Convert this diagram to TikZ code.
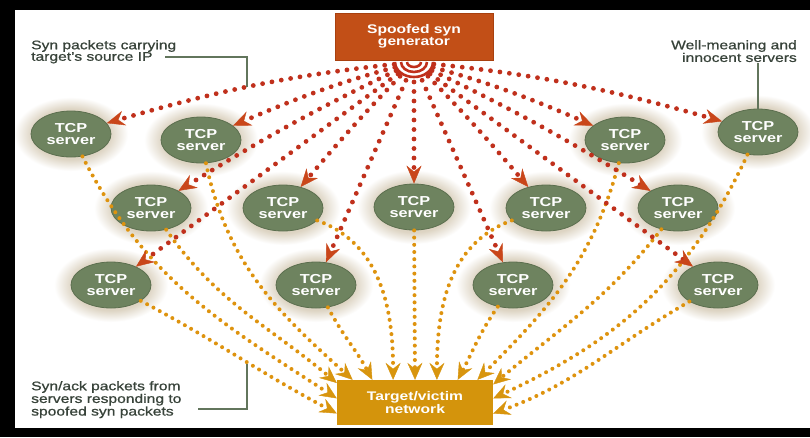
\documentclass[tikz,border=0pt]{standalone}
\usepackage{fontspec}
\setmainfont{Liberation Sans}[FakeStretch=1.25]
\newfontfamily\notefont{Liberation Sans}[FakeStretch=1.25,FakeBold=0.8]
\usetikzlibrary{shapes.geometric,arrows.meta,calc}

\definecolor{synred}{HTML}{C0301C}
\definecolor{tipred}{HTML}{C9461A}
\definecolor{gold}{HTML}{DE930E}
\definecolor{tipgold}{HTML}{D8950E}
\definecolor{genfill}{HTML}{C24F17}
\definecolor{genedge}{HTML}{A8400F}
\definecolor{tgtfill}{HTML}{D4940C}
\definecolor{srvfill}{HTML}{6E835F}
\definecolor{srvedge}{HTML}{5B6E4E}
\definecolor{haloc}{HTML}{DDD4C3}
\definecolor{notetext}{HTML}{38433A}
\definecolor{leader}{HTML}{62755C}

% soft beige glow around each server
\pgfdeclareradialshading{halo}{\pgfpoint{0bp}{0bp}}{color(0bp)=(haloc); color(17bp)=(haloc); color(25bp)=(white); color(50bp)=(white)}

\pgfdeclarelayer{frame}
\pgfdeclarelayer{glow}
\pgfsetlayers{frame,glow,main}

\begin{document}
\begin{tikzpicture}[x=1pt,y=1pt,
  server/.style={ellipse, fill=srvfill, draw=srvedge, line width=0.8pt,
    minimum width=80pt, minimum height=46pt, inner sep=0pt, align=center,
    text=white, font=\bfseries\fontsize{13}{12}\selectfont},
  genbox/.style={rectangle, fill=genfill, draw=genedge, line width=1pt,
    minimum width=158pt, minimum height=47pt, inner sep=0pt, align=center,
    text=white, font=\bfseries\fontsize{12.5}{12}\selectfont},
  tgtbox/.style={rectangle, fill=tgtfill, minimum width=156pt, minimum height=45pt,
    inner sep=0pt, align=center, text=white, font=\bfseries\fontsize{12.5}{11.5}\selectfont},
  note/.style={inner sep=0pt, text=notetext, font=\notefont\fontsize{12.5}{11.5}\selectfont},
  leaderline/.style={draw=leader, line width=1.3pt},
  synline/.style={draw=synred, line width=4.8pt, line cap=round,
    dash pattern=on 0pt off 9.5pt, shorten <=20pt,
    -{Stealth[length=18pt,width=15pt,inset=6pt,line width=0.4pt,color=tipred]}},
  ackline/.style={draw=gold, line width=4pt, line cap=round,
    dash pattern=on 0pt off 7.2pt,
    -{Stealth[length=17pt,width=15pt,inset=6pt,line width=0.4pt,color=tipgold]}},
]
\useasboundingbox (0,0) rectangle (810,-437);

% black frame and white sheet
\begin{pgfonlayer}{frame}
  \fill[black] (0,0) rectangle (810,-437);
  \fill[white] (15,-10) rectangle (810,-428);
\end{pgfonlayer}

% generator, emitter and target
\node[genbox] (gen) at (414,-36.5) {Spoofed syn\\generator};
\coordinate (emit) at (414,-62);
\foreach \rx/\ry in {7/5,13/10,19/15}
  \draw[synred, line width=2.6pt] ($(emit)+(-\rx,0)$) arc[start angle=180, end angle=360, x radius=\rx, y radius=\ry];
\node[tgtbox] (tgt) at (415,-402.5) {Target/victim\\network};

% TCP servers, three rows
\node[server] (r1a) at (71,-134)  {TCP\\server};
\node[server] (r1b) at (201,-140) {TCP\\server};
\node[server] (r1c) at (625,-140) {TCP\\server};
\node[server] (r1d) at (758,-132) {TCP\\server};
\node[server] (r2a) at (151,-208) {TCP\\server};
\node[server] (r2b) at (283,-208) {TCP\\server};
\node[server] (r2c) at (414,-207) {TCP\\server};
\node[server] (r2d) at (546,-208) {TCP\\server};
\node[server] (r2e) at (678,-208) {TCP\\server};
\node[server] (r3a) at (111,-285) {TCP\\server};
\node[server] (r3b) at (316,-285) {TCP\\server};
\node[server] (r3c) at (513,-285) {TCP\\server};
\node[server] (r3d) at (718,-285) {TCP\\server};

\begin{pgfonlayer}{glow}
  \begin{scope}
    \clip (15,-10) rectangle (810,-428);
    \foreach \s in {r1a,r1b,r1c,r1d,r2a,r2b,r2c,r2d,r2e,r3a,r3b,r3c,r3d}
      \shade[shading=halo] (\s.center) ellipse [x radius=57, y radius=37];
  \end{scope}
\end{pgfonlayer}

% syn/ack replies converging on the target
\draw[ackline] (r1a) to[out=-63,in=147] (tgt.177);
\draw[ackline] (r2a) to[out=-55,in=140] (tgt.166);
\draw[ackline] (r3a) to[out=-28,in=152] (tgt.188);
\draw[ackline] (r1b) to[out=-78,in=138] (tgt.160);
\draw[ackline] (r3b) to[out=-62,in=118] (tgt.152);
\draw[ackline] (r2b) to[out=-20,in=90]  (tgt.134);
\draw[ackline] (r2c) -- (tgt.north);
\draw[ackline] (r2d) to[out=200,in=90]  (tgt.46);
\draw[ackline] (r3c) to[out=235,in=62]  (tgt.28);
\draw[ackline] (r1c) to[out=255,in=45]  (tgt.20);
\draw[ackline] (r2e) to[out=232,in=40]  (tgt.13);
\draw[ackline] (r1d) to[out=245,in=25]  (tgt.3);
\draw[ackline] (r3d) to[out=210,in=20]  (tgt.-8);

% spoofed syn packets fanning out from the generator
\draw[synline] (emit) to[bend right=5] (r1a);
\draw[synline] (emit) to[bend right=4] (r1b);
\draw[synline] (emit) to[bend right=3] (r2a);
\draw[synline] (emit) to[bend right=2] (r2b);
\draw[synline] (emit) -- (r3a);
\draw[synline] (emit) -- (r3b);
\draw[synline] (emit) -- (r2c);
\draw[synline] (emit) to[bend left=2] (r2d);
\draw[synline] (emit) -- (r3c);
\draw[synline] (emit) to[bend left=3] (r2e);
\draw[synline] (emit) -- (r3d);
\draw[synline] (emit) to[bend left=4] (r1c);
\draw[synline] (emit) to[bend left=5] (r1d);

% callouts
\node[note, align=left, anchor=north west] (nsyn) at (31,-40) {Syn packets carrying\\target’s source IP};
\coordinate (nsynA) at (165,-57);
\coordinate (nsynB) at (247,-87);
\draw[leaderline] (nsynA) -| (nsynB);

\node[note, align=right, anchor=north east] (nsrv) at (797,-40) {Well-meaning and\\innocent servers};
\coordinate (nsrvA) at (758,-63);
\draw[leaderline] (nsrvA) -- (r1d.north);

\node[note, align=left, anchor=north west] (nack) at (31,-381) {Syn/ack packets from\\servers responding to\\spoofed syn packets};
\coordinate (nackA) at (198,-409);
\coordinate (nackB) at (247,-364);
\draw[leaderline] (nackA) -| (nackB);
\end{tikzpicture}
\end{document}
